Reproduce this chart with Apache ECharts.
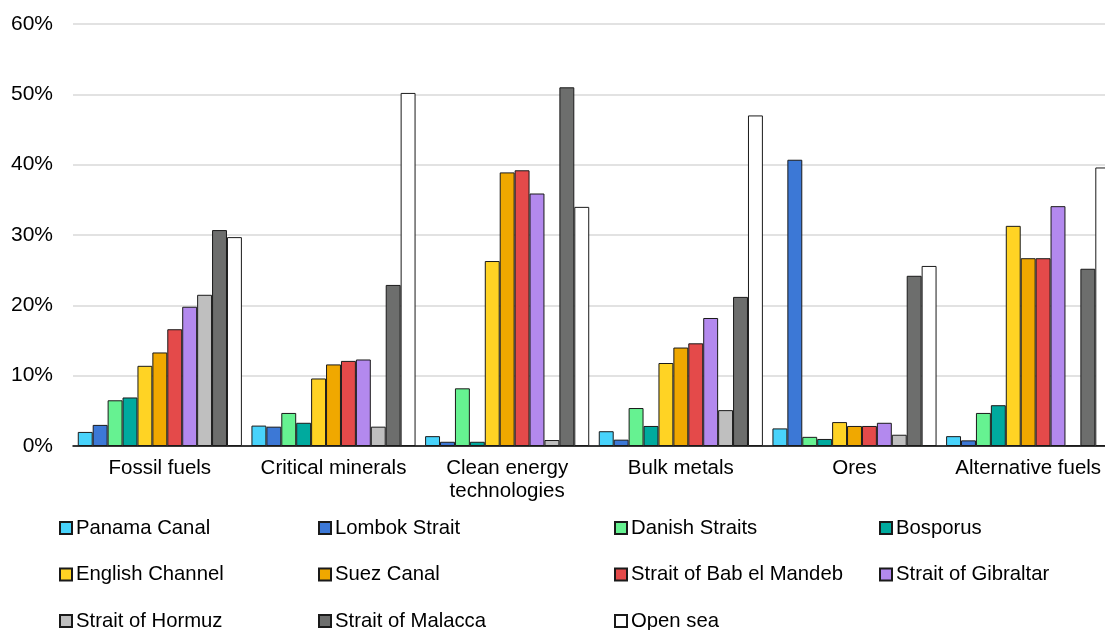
<!DOCTYPE html>
<html>
<head>
<meta charset="utf-8">
<script src="https://cdn.jsdelivr.net/npm/echarts@6/dist/echarts.min.js"></script>
<style>
html,body{margin:0;padding:0;background:#fff;}
#chart{width:1105px;height:630px;}
</style>
</head>
<body>
<div id="chart"></div>
<script>
const categories = ['Fossil fuels', 'Critical minerals', 'Clean energy\ntechnologies', 'Bulk metals', 'Ores', 'Alternative fuels'];
const seriesNames = ['Panama Canal', 'Lombok Strait', 'Danish Straits', 'Bosporus', 'English Channel', 'Suez Canal', 'Strait of Bab el Mandeb', 'Strait of Gibraltar', 'Strait of Hormuz', 'Strait of Malacca', 'Open sea'];
const panamaCanal    = [2.0, 2.9, 1.4, 2.1, 2.5, 1.4];
const lombokStrait   = [3.0, 2.75, 0.6, 0.9, 40.7, 0.8];
const danishStraits  = [6.5, 4.7, 8.2, 5.4, 1.3, 4.7];
const bosporus       = [6.9, 3.3, 0.6, 2.85, 1.0, 5.8];
const englishChannel = [11.4, 9.6, 26.3, 11.8, 3.4, 31.3];
const suezCanal      = [13.3, 11.6, 38.9, 14.0, 2.85, 26.7];
const babElMandeb    = [16.6, 12.1, 39.2, 14.6, 2.85, 26.7];
const gibraltar      = [19.8, 12.3, 35.9, 18.2, 3.3, 34.1];
const hormuz         = [21.5, 2.75, 0.85, 5.1, 1.6, 0.1];
const malacca        = [30.7, 22.9, 51.0, 21.2, 24.2, 25.2];
const openSea        = [29.7, 50.2, 34.0, 47.0, 25.6, 39.6];
const yTicks = [0, 10, 20, 30, 40, 50, 60];

const seriesData = [panamaCanal, lombokStrait, danishStraits, bosporus, englishChannel, suezCanal, babElMandeb, gibraltar, hormuz, malacca, openSea];
const colors = ['#48d3fb', '#3c78d6', '#66f291', '#00aa9e', '#ffd324', '#f0a800', '#e44a4a', '#b389ee', '#bfbfbf', '#6d6e6d', '#ffffff'];

const FONT = '"Liberation Sans", Arial, sans-serif';
const legendColumns = [
  { left: 59, names: ['Panama Canal', 'English Channel', 'Strait of Hormuz'] },
  { left: 318, names: ['Lombok Strait', 'Suez Canal', 'Strait of Malacca'] },
  { left: 614, names: ['Danish Straits', 'Strait of Bab el Mandeb', 'Open sea'] },
  { left: 879, names: ['Bosporus', 'Strait of Gibraltar'] }
];

const chart = echarts.init(document.getElementById('chart'), null, { renderer: 'canvas' });
chart.setOption({
  backgroundColor: '#ffffff',
  animation: false,
  color: colors,
  textStyle: { fontFamily: FONT },
  grid: { left: 73, width: 1042, top: 24, height: 422, containLabel: false, outerBoundsMode: 'none' },
  legend: legendColumns.map(c => ({
    orient: 'vertical',
    left: c.left,
    top: 518,
    height: 140,
    data: c.names,
    icon: 'rect',
    itemWidth: 12,
    itemHeight: 12,
    itemGap: 26.5,
    padding: 0,
    selectedMode: false,
    textStyle: { fontFamily: FONT, fontSize: 20.3, color: '#000', lineHeight: 20, padding: [0, 0, 0, -1] }
  })),
  xAxis: {
    type: 'category',
    data: categories,
    axisLine: { show: true, lineStyle: { color: '#000', width: 1.5 } },
    axisTick: { show: false },
    axisLabel: { interval: 0, margin: 11, fontFamily: FONT, fontSize: 20.5, color: '#000', lineHeight: 23 }
  },
  yAxis: {
    type: 'value',
    min: yTicks[0],
    max: yTicks[yTicks.length - 1],
    interval: 10,
    axisLine: { show: false },
    axisTick: { show: false },
    axisLabel: { formatter: '{value}%', margin: 20, fontFamily: FONT, fontSize: 21, color: '#000' },
    splitLine: { lineStyle: { color: '#d9d9d9', width: 1.5 } }
  },
  series: seriesNames.map((name, i) => ({
    name: name,
    type: 'bar',
    data: seriesData[i],
    barGap: 0,
    barCategoryGap: '5.5%',
    itemStyle: { color: colors[i], borderColor: '#1a1a1a', borderWidth: 1 }
  }))
});
</script>
</body>
</html>
